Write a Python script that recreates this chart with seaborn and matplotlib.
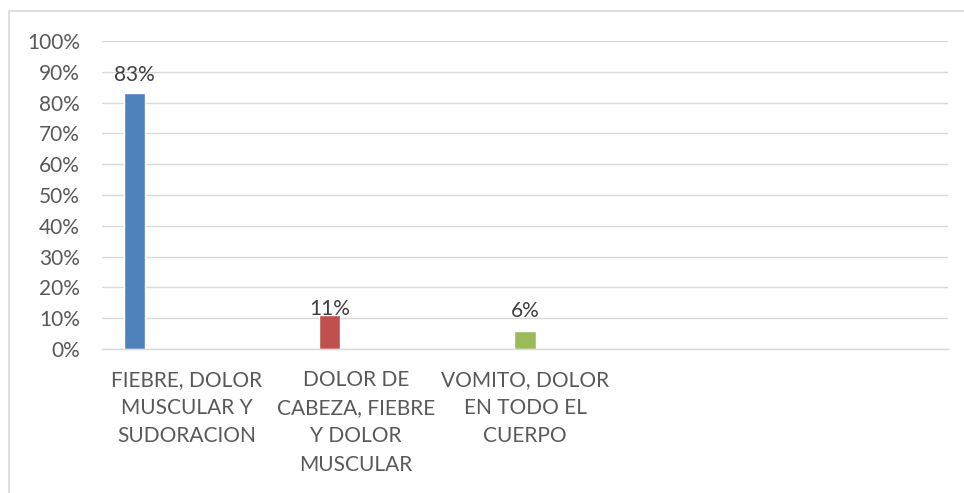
import textwrap
import matplotlib
matplotlib.use("Agg")
import matplotlib.pyplot as plt
from matplotlib.patches import Rectangle
from matplotlib.ticker import PercentFormatter
import numpy as np
import pandas as pd
import seaborn as sns

# ---- data ----
categorias = [
    "FIEBRE, DOLOR MUSCULAR Y SUDORACION",
    "DOLOR DE CABEZA, FIEBRE Y DOLOR MUSCULAR",
    "VOMITO, DOLOR EN TODO EL CUERPO",
]
series = ["Serie1", "Serie2", "Serie3", "Serie4", "Serie5"]
serie_de_cada_valor = ["Serie1", "Serie2", "Serie3"]
valores = [0.83, 0.11, 0.06]
etiquetas = ["83%", "11%", "6%"]
colores = ["#4F81BD", "#C0504D", "#9BBB59", "#8064A2", "#4BACC6"]
yticks = [0.0, 0.1, 0.2, 0.3, 0.4, 0.5, 0.6, 0.7, 0.8, 0.9, 1.0]

sns.set_style("white")
plt.rcParams["font.family"] = ["Lato", "DejaVu Sans"]

W, H = 964, 493
fig = plt.figure(figsize=(W / 100, H / 100), dpi=100)
ax = fig.add_axes([102 / W, 1 - 349 / H, (948 - 102) / W, (349 - 41) / H])

df = pd.DataFrame({"categoria": categorias, "serie": serie_de_cada_valor, "valor": valores})
sns.barplot(
    data=df, x="categoria", y="valor", hue="serie", hue_order=series,
    order=categorias, palette=dict(zip(series, colores)),
    width=0.77, gap=0.19, dodge=True, legend=False, saturation=1, ax=ax,
)

ax.set_xlim(-0.5, 4.5)
ax.set_ylim(0, 1)
ax.set_yticks(yticks)
ax.yaxis.set_major_formatter(PercentFormatter(1.0, decimals=0))
ax.set_xticks(range(len(categorias)))
ax.set_xticklabels([textwrap.fill(c, 14) for c in categorias], linespacing=1.52)
ax.set_xlabel("")
ax.set_ylabel("")

grid_c = "#D9D9D9"
ax.grid(axis="y", color=grid_c, linewidth=1.0)
ax.set_axisbelow(True)
for s in ["left", "right", "top"]:
    ax.spines[s].set_visible(False)
ax.spines["bottom"].set_color(grid_c)
ax.spines["bottom"].set_linewidth(1.0)
ax.tick_params(axis="y", length=0, pad=16, labelsize=15, labelcolor="#595959")
ax.tick_params(axis="x", length=0, pad=15, labelsize=15, labelcolor="#595959")

paddings = [6, -3, 7]
for cont, lab, pad in zip(ax.containers, etiquetas, paddings):
    ax.bar_label(cont, labels=[lab], padding=pad, fontsize=15, color="#404040")

fig.patches.append(Rectangle((9 / W, -0.1), 1.5, (H - 11) / H + 0.1,
                             transform=fig.transFigure, fill=False,
                             edgecolor=grid_c, linewidth=1.2))

fig.savefig("out.png", dpi=100, facecolor="white")
